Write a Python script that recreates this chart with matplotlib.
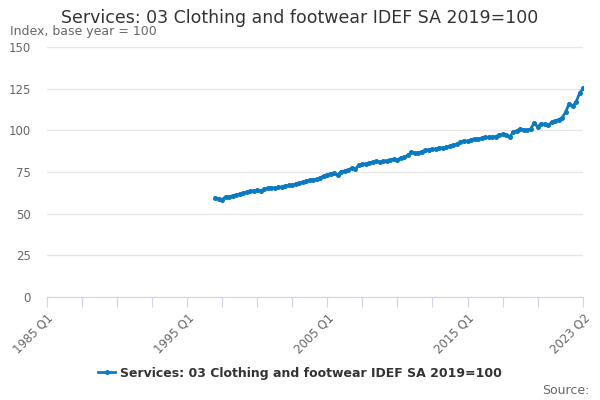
import matplotlib
matplotlib.use("Agg")
import matplotlib.pyplot as plt

# quarterly index, 1997 Q1 .. 2023 Q2
start_q = 48  # quarters after 1985 Q1
values = [
    59.2, 59.0, 58.4, 60.2, 60.0, 60.8, 61.2, 61.8, 62.4, 62.8,
    63.4, 63.8, 64.0, 63.6, 64.6, 65.2, 65.6, 65.4, 65.8, 66.0,
    66.6, 67.0, 67.2, 67.8, 68.4, 69.0, 69.6, 70.2, 70.4, 70.6,
    71.6, 72.6, 73.4, 74.0, 74.2, 73.4, 75.2, 75.6, 76.2, 77.4,
    76.6, 79.4, 79.6, 79.8, 80.4, 81.0, 81.4, 81.0, 81.4, 81.8,
    82.4, 82.6, 82.2, 83.6, 83.8, 85.0, 87.0, 86.4, 86.6, 87.2,
    88.0, 88.4, 88.6, 88.8, 89.6, 89.4, 89.8, 90.6, 91.0, 91.8,
    93.0, 93.8, 93.4, 94.4, 95.0, 94.8, 95.2, 95.8, 95.8, 96.0,
    96.2, 97.4, 97.6, 97.4, 96.0, 98.8, 99.6, 101.0, 100.2, 100.0,
    100.8, 104.4, 102.0, 104.0, 103.6, 103.0, 104.8, 105.8, 106.4, 107.6,
    111.0, 116.0, 114.4, 117.2, 122.4, 125.2,
]
x = list(range(start_q, start_q + len(values)))

tick_pos = list(range(0, 150, 10)) + [153]
label_pos = [0, 40, 80, 120, 153]
label_txt = ["1985 Q1", "1995 Q1", "2005 Q1", "2015 Q1", "2023 Q2"]
series_name = "Services: 03 Clothing and footwear IDEF SA 2019=100"

line_col = "#0b7bc1"
grey = "#666666"

fig = plt.figure(figsize=(6, 4), dpi=100)
ax = fig.add_axes([0.078, 0.2575, 0.894, 0.625])

ax.plot(x, values, color=line_col, lw=2, marker="o", ms=2.6, label=series_name)

ax.set_xlim(0, 153)
ax.set_ylim(0, 150)
ax.set_yticks(range(0, 151, 25))
ax.grid(axis="y", color="#e6e6e6", lw=1)
ax.set_axisbelow(True)
for s in ["top", "right", "left"]:
    ax.spines[s].set_visible(False)
ax.spines["bottom"].set_color("#ccd6eb")

ax.set_xticks(tick_pos)
ax.set_xticklabels([label_txt[label_pos.index(p)] if p in label_pos else "" for p in tick_pos],
                   rotation=45, ha="right", rotation_mode="anchor")
ax.tick_params(axis="x", colors="#ccd6eb", length=7.5, labelcolor=grey, labelsize=8.5, pad=3)
ax.tick_params(axis="y", length=0, labelcolor=grey, labelsize=8.5, pad=11.5)

fig.text(0.5, 0.955, series_name, ha="center", va="center", fontsize=12.5, color="#333333")
fig.text(0.017, 0.92, "Index, base year = 100", ha="left", va="center", fontsize=9, color=grey)
fig.text(0.982, 0.025, "Source:", ha="right", va="center", fontsize=9, color=grey)

leg = fig.legend(loc="center", bbox_to_anchor=(0.5, 0.067), frameon=False, fontsize=9,
                 handlelength=1.3, handletextpad=0.4)
for t in leg.get_texts():
    t.set_fontweight("bold")
    t.set_color("#333333")

fig.savefig("out.png", dpi=100)
